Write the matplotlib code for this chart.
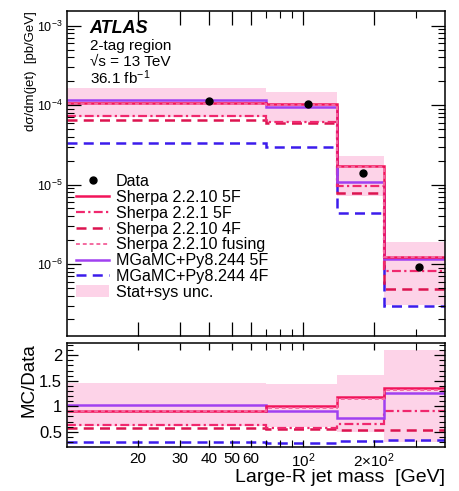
import matplotlib
matplotlib.use('Agg')
import matplotlib.pyplot as plt
from matplotlib.ticker import FixedLocator, FixedFormatter, NullFormatter, LogLocator
from matplotlib.lines import Line2D
from matplotlib.patches import Patch

plt.rcParams['font.family'] = ['Liberation Sans', 'DejaVu Sans']
plt.rcParams['mathtext.default'] = 'regular'

# ---- data ----
edges = [10, 70, 140, 220, 400]
data_x = [40, 105, 180, 310]
data_y = [1.13e-4, 1.02e-4, 1.41e-5, 9.25e-7]
sherpa_5f = [1.05e-4, 1.03e-4, 1.73e-5, 1.24e-6]
sherpa221_5f = [7.3e-5, 6.2e-5, 9.6e-6, 8.2e-7]
sherpa_4f = [6.5e-5, 6.0e-5, 7.9e-6, 4.85e-7]
sherpa_fusing = [1.02e-4, 0.99e-4, 1.65e-5, 1.21e-6]
mg_5f = [1.156e-4, 9.5e-5, 1.08e-5, 1.14e-6]
mg_4f = [3.36e-5, 3.0e-5, 4.4e-6, 2.96e-7]
unc_lo = [7.0e-5, 6.2e-5, 7.1e-6, 3.05e-7]
unc_hi = [1.65e-4, 1.44e-4, 2.28e-5, 1.9e-6]

r_sherpa_5f = [0.91, 1.01, 1.18, 1.35]
r_sherpa221_5f = [0.63, 0.58, 0.66, 0.90]
r_sherpa_4f = [0.57, 0.55, 0.54, 0.53]
r_sherpa_fusing = [0.90, 0.97, 1.15, 1.32]
r_mg_5f = [1.02, 0.90, 0.76, 1.26]
r_mg_4f = [0.29, 0.28, 0.32, 0.33]
r_unc_lo = [0.62, 0.60, 0.50, 0.30]
r_unc_hi = [1.45, 1.44, 1.61, 2.11]

labels = ['Data', 'Sherpa 2.2.10 5F', 'Sherpa 2.2.1 5F', 'Sherpa 2.2.10 4F',
          'Sherpa 2.2.10 fusing', 'MGaMC+Py8.244 5F', 'MGaMC+Py8.244 4F', 'Stat+sys unc.']

x_tick_pos = [20, 30, 40, 50, 60, 100, 200]
x_tick_lab = ['20', '30', '40', '50', '60', '$10^{2}$', r'$2{\times}10^{2}$']

# ---- styles ----
band_col = '#FDD3E8'
c_s5 = '#F2145A'
c_s221 = '#F0286E'
c_s4 = '#DC1450'
c_fus = '#F46AA0'
c_mg5 = '#A040F0'
c_mg4 = '#3C1CEC'

fig = plt.figure(figsize=(4.59, 4.91), dpi=100)
ax = fig.add_axes([0.146, 0.3157, 0.8235, 0.662])
axr = fig.add_axes([0.146, 0.0896, 0.8235, 0.2118], sharex=ax)


def draw(a, band_lo, band_hi, s5, s221, s4, fus, m5, m4):
    a.stairs(band_hi, edges, baseline=band_lo, fill=True, color=band_col, lw=0)
    a.stairs(m4, edges, baseline=None, color=c_mg4, lw=1.8, ls=(0, (4, 2.5)))
    a.stairs(s4, edges, baseline=None, color=c_s4, lw=1.8, ls=(0, (4, 2.5)))
    a.stairs(s221, edges, baseline=None, color=c_s221, lw=1.6, ls=(0, (4, 1.5, 1, 1.5)))
    a.stairs(m5, edges, baseline=None, color=c_mg5, lw=1.8, ls='-')
    a.stairs(s5, edges, baseline=None, color=c_s5, lw=1.8, ls='-')
    a.stairs(fus, edges, baseline=None, color=c_fus, lw=1.4, ls=(0, (2, 1.5)))


draw(ax, unc_lo, unc_hi, sherpa_5f, sherpa221_5f, sherpa_4f, sherpa_fusing, mg_5f, mg_4f)
ax.plot(data_x, data_y, 'o', color='black', ms=5, zorder=10)

draw(axr, r_unc_lo, r_unc_hi, r_sherpa_5f, r_sherpa221_5f, r_sherpa_4f,
     r_sherpa_fusing, r_mg_5f, r_mg_4f)
axr.axhline(1.0, color='#999999', lw=0.8, zorder=0.5)

# axes settings
ax.set_xscale('log')
ax.set_yscale('log')
ax.set_xlim(10, 400)
ax.set_ylim(1.24e-7, 1.53e-3)
axr.set_ylim(0.2, 2.24)

for a in (ax, axr):
    a.xaxis.set_major_locator(FixedLocator([100]))
    a.xaxis.set_minor_locator(FixedLocator([20, 30, 40, 50, 60, 70, 80, 90, 200, 300]))
    a.tick_params(which='both', direction='in', top=True, right=True, labelsize=10.5)
    a.tick_params(which='major', length=10, width=0.9)
    a.tick_params(which='minor', length=5, width=0.8)
    for s in a.spines.values():
        s.set_linewidth(1.1)

ax.yaxis.set_major_locator(LogLocator(base=10, numticks=20))
ax.yaxis.set_minor_locator(LogLocator(base=10, subs=range(2, 10), numticks=20))
ax.yaxis.set_minor_formatter(NullFormatter())
ax.tick_params(axis='y', which='major', labelsize=9, pad=3)
plt.setp(ax.get_xticklabels(which='both'), visible=False)

axr.xaxis.set_major_locator(FixedLocator(x_tick_pos))
axr.xaxis.set_major_formatter(FixedFormatter(x_tick_lab))
axr.xaxis.set_minor_locator(FixedLocator([70, 80, 90, 300]))
axr.xaxis.set_minor_formatter(NullFormatter())
axr.tick_params(axis='x', which='major', length=5, labelsize=11)
axr.set_yticks([0.5, 1, 1.5, 2])
axr.set_yticklabels(['0.5', '1', '1.5', '2'])
axr.set_yticks([0.3, 0.4, 0.6, 0.7, 0.8, 0.9, 1.1, 1.2, 1.3, 1.4, 1.6, 1.7, 1.8, 1.9, 2.1, 2.2], minor=True)
axr.tick_params(axis='y', which='major', length=8, labelsize=12)
axr.tick_params(axis='y', which='minor', length=4)

ax.set_ylabel('dσ/dm(jet)  [pb/GeV]', fontsize=9.5, loc='top')
axr.set_ylabel('MC/Data', fontsize=13.5, loc='top')
axr.set_xlabel('Large-R jet mass  [GeV]', fontsize=14, loc='right', labelpad=-1)
ax.yaxis.set_label_coords(-0.08, 1.0)
axr.yaxis.set_label_coords(-0.077, 1.0)

# text
ax.text(0.06, 0.945, 'ATLAS', transform=ax.transAxes, fontsize=13,
        fontweight='bold', fontstyle='italic', va='center')
ax.text(0.06, 0.893, '2-tag region', transform=ax.transAxes, fontsize=11, va='center')
ax.text(0.06, 0.843, '√s = 13 TeV', transform=ax.transAxes, fontsize=11, va='center')
ax.text(0.06, 0.794, '36.1 fb$^{-1}$', transform=ax.transAxes, fontsize=11, va='center')

# legend
handles = [
    Line2D([], [], ls='none', marker='o', color='black', ms=5),
    Line2D([], [], color=c_s5, lw=1.8),
    Line2D([], [], color=c_s221, lw=1.6, ls=(0, (4, 1.5, 1, 1.5))),
    Line2D([], [], color=c_s4, lw=1.8, ls=(0, (4, 2.5))),
    Line2D([], [], color=c_fus, lw=1.4, ls=(0, (2, 1.5))),
    Line2D([], [], color=c_mg5, lw=1.8),
    Line2D([], [], color=c_mg4, lw=1.8, ls=(0, (4, 2.5))),
    Patch(facecolor=band_col, edgecolor='none'),
]
ax.legend(handles, labels, loc='upper left', bbox_to_anchor=(0.025, 0.498),
          frameon=False, fontsize=11.6, handlelength=2.0, handletextpad=0.45,
          labelspacing=0.05, borderaxespad=0, borderpad=0)

fig.savefig('out.png', dpi=100)
